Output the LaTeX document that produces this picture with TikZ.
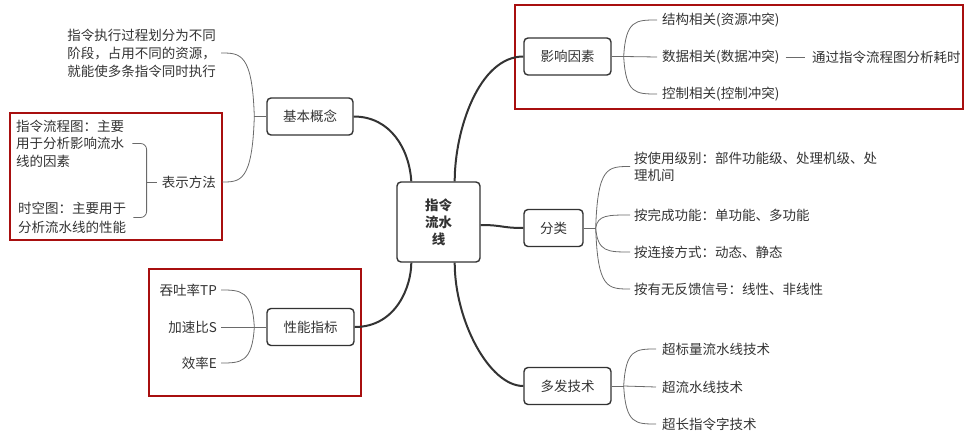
\documentclass[tikz,border=0pt]{standalone}
\usepackage{fontspec}
\setmainfont{Noto Sans CJK SC}
\definecolor{ink}{HTML}{333333}
\definecolor{boxred}{HTML}{A80F0F}
\definecolor{thin}{HTML}{6A6A6A}
\begin{document}
\begin{tikzpicture}[x=1pt,y=-1pt,
  font=\fontsize{13.5}{17}\selectfont, text=ink,
  topic/.style={draw=ink, line width=1.4pt, rounded corners=4pt, fill=white,
    minimum height=37pt, inner sep=0pt, align=center},
  leaf/.style={inner sep=0pt, align=left},
  mainline/.style={draw=ink, line width=2pt},
  subline/.style={draw=thin, line width=0.8pt},
  redbox/.style={draw=boxred, line width=1.8pt}]
\useasboundingbox (0,0) rectangle (972,439);

% red frames
\draw[redbox] (515,5) rectangle (963,109);
\draw[redbox] (10,113) rectangle (222,240);
\draw[redbox] (149,269) rectangle (361,396);

% topic nodes
\node[topic, minimum width=83pt, minimum height=80pt,
  font=\fontsize{13.5}{17}\selectfont\bfseries] (root) at (438.5,222) {指令\\流水\\线};
\node[topic, minimum width=86pt] (jbgn) at (310,116.5) {基本概念};
\node[topic, minimum width=87pt] (yxys) at (567.5,56.5) {影响因素};
\node[topic, minimum width=59pt] (fl) at (553.5,228) {分类};
\node[topic, minimum width=87pt] (xnzb) at (310.5,327) {性能指标};
\node[topic, minimum width=87pt] (dfjs) at (567.5,386) {多发技术};

% leaves: 基本概念
\node[leaf, anchor=east, font=\fontsize{13.5}{18}\selectfont] (desc) at (216,53)
  {指令执行过程划分为不同\\阶段，占用不同的资源，\\就能使多条指令同时执行};
\node[leaf, anchor=east] (bsff) at (216,182) {表示方法};
\node[leaf, anchor=west, font=\fontsize{13.5}{17.5}\selectfont] (lc1) at (16,143.5)
  {指令流程图：主要\\用于分析影响流水\\线的因素};
\node[leaf, anchor=west, font=\fontsize{13.5}{19}\selectfont] (lc2) at (18,217.5)
  {时空图：主要用于\\分析流水线的性能};

% leaves: 影响因素
\node[leaf, anchor=west] (y1) at (662,20) {结构相关(资源冲突)};
\node[leaf, anchor=west] (y2) at (662,57) {数据相关(数据冲突)};
\node[leaf, anchor=west] (y3) at (662,94) {控制相关(控制冲突)};
\node[leaf, anchor=west] (y4) at (812,57) {通过指令流程图分析耗时};

% leaves: 分类
\node[leaf, anchor=west] (f1) at (634,166.5) {按使用级别：部件功能级、处理机级、处\\理机间};
\node[leaf, anchor=west] (f2) at (634,215) {按完成功能：单功能、多功能};
\node[leaf, anchor=west] (f3) at (634,252) {按连接方式：动态、静态};
\node[leaf, anchor=west] (f4) at (634,289) {按有无反馈信号：线性、非线性};

% leaves: 性能指标
\node[leaf, anchor=east] (p1) at (217,290) {吞吐率TP};
\node[leaf, anchor=east] (p2) at (217,327) {加速比S};
\node[leaf, anchor=east] (p3) at (217,363) {效率E};

% leaves: 多发技术
\node[leaf, anchor=west] (d1) at (662,349) {超标量流水线技术};
\node[leaf, anchor=west] (d2) at (662,387) {超流水线技术};
\node[leaf, anchor=west] (d3) at (662,424) {超长指令字技术};

% main connectors
\draw[mainline] (jbgn.east) .. controls +(37,0) and +(-2,-32) .. ([xshift=15pt]root.north west);
\draw[mainline] (yxys.west) .. controls +(-44,0) and +(0,-52) .. ([xshift=-26pt]root.north east);
\draw[mainline] ([yshift=-3pt]root.east) .. controls +(22,0) and +(-22,0) .. (fl.west);
\draw[mainline] (xnzb.east) .. controls +(42,0) and +(0,23) .. ([xshift=15pt]root.south west);
\draw[mainline] ([xshift=-26pt]root.south east) .. controls +(0,58) and +(-34,0) .. (dfjs.west);

% 影响因素 brace
\coordinate (yj) at ([xshift=12pt]yxys.east);
\draw[subline] (yxys.east) -- (yj);
\draw[subline] (yj) .. controls ([xshift=2pt]yj |- y1.west) and ([xshift=12pt]yj |- y1.west) .. ([xshift=-5pt]y1.west);
\draw[subline] (yj) -- ([xshift=-5pt]y2.west);
\draw[subline] (yj) .. controls ([xshift=2pt]yj |- y3.west) and ([xshift=12pt]yj |- y3.west) .. ([xshift=-5pt]y3.west);
\draw[subline] ([xshift=6pt]y2.east) -- ([xshift=-7pt]y4.west);

% 分类 brace
\coordinate (fj) at ([xshift=12pt]fl.east);
\draw[subline] (fl.east) -- (fj);
\foreach \c in {f1,f2,f3,f4}
  \draw[subline] (fj) .. controls ([xshift=2pt]fj |- \c.west) and ([xshift=12pt]fj |- \c.west) .. ([xshift=-4pt]\c.west);

% 多发技术 brace
\coordinate (dj) at ([xshift=12pt]dfjs.east);
\draw[subline] (dfjs.east) -- (dj);
\draw[subline] (dj) .. controls ([xshift=2pt]dj |- d1.west) and ([xshift=12pt]dj |- d1.west) .. ([xshift=-6pt]d1.west);
\draw[subline] (dj) -- ([xshift=-6pt]d2.west);
\draw[subline] (dj) .. controls ([xshift=2pt]dj |- d3.west) and ([xshift=12pt]dj |- d3.west) .. ([xshift=-6pt]d3.west);

% 基本概念 brace
\coordinate (bj) at ([xshift=-12pt]jbgn.west);
\draw[subline] (jbgn.west) -- (bj);
\draw[subline] (bj) .. controls ([xshift=-2pt]bj |- desc.east) and ([xshift=-14pt]bj |- desc.east) .. ([xshift=5pt]desc.east);
\draw[subline] (bj) .. controls ([xshift=-2pt]bj |- bsff.east) and ([xshift=-14pt]bj |- bsff.east) .. ([xshift=6pt]bsff.east);

% 表示方法 brace
\coordinate (bsj) at ([xshift=-15pt]bsff.west);
\draw[subline] ([xshift=-5pt]bsff.west) -- (bsj);
\draw[subline, rounded corners=6pt] ([xshift=8pt]lc1.east) -| (bsj);
\draw[subline, rounded corners=6pt] ([xshift=7pt]lc2.east) -| (bsj);

% 性能指标 brace
\coordinate (pj) at ([xshift=-12pt]xnzb.west);
\draw[subline] (xnzb.west) -- (pj);
\draw[subline] (pj) .. controls ([xshift=-2pt]pj |- p1.east) and ([xshift=-14pt]pj |- p1.east) .. ([xshift=4pt]p1.east);
\draw[subline] (pj) -- ([xshift=4pt]p2.east);
\draw[subline] (pj) .. controls ([xshift=-2pt]pj |- p3.east) and ([xshift=-14pt]pj |- p3.east) .. ([xshift=4pt]p3.east);
\end{tikzpicture}
\end{document}
